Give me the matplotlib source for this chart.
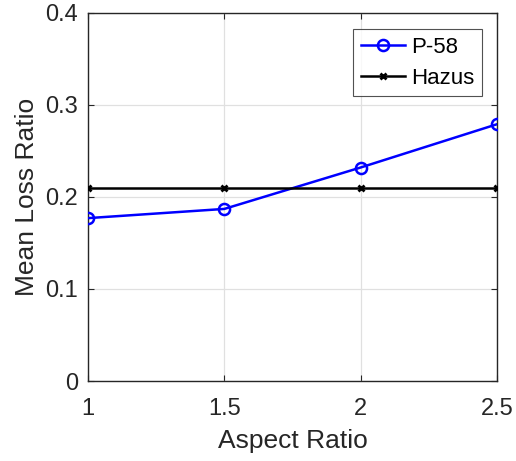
import matplotlib
matplotlib.use('Agg')
import matplotlib.pyplot as plt

# Data
aspect_ratio = [1, 1.5, 2, 2.5]
p58_loss = [0.177, 0.187, 0.232, 0.279]
hazus_loss = [0.21, 0.21, 0.21, 0.21]

xticks = [1, 1.5, 2, 2.5]
xtick_labels = ['1', '1.5', '2', '2.5']
yticks = [0, 0.1, 0.2, 0.3, 0.4]
ytick_labels = ['0', '0.1', '0.2', '0.3', '0.4']

plt.rcParams['font.family'] = ['Liberation Sans', 'DejaVu Sans']

fig = plt.figure(figsize=(5.16, 4.61), dpi=100)
ax = fig.add_axes([0.1705, 0.1735, 0.7925, 0.7985])

ax.plot(aspect_ratio, p58_loss, color='#0000ff', marker='o', markersize=8,
        markerfacecolor='none', markeredgewidth=1.8, linewidth=1.8, label='P-58', zorder=3)
ax.plot(aspect_ratio, hazus_loss, color='black', marker='x', markersize=5,
        markeredgewidth=2, linewidth=1.8, label='Hazus', zorder=3)

ax.set_xlim(1, 2.5)
ax.set_ylim(0, 0.4)
ax.set_xticks(xticks)
ax.set_xticklabels(xtick_labels)
ax.set_yticks(yticks)
ax.set_yticklabels(ytick_labels)

ax.grid(True, color='#e0e0e0', linewidth=0.9)
ax.set_axisbelow(True)
ax.tick_params(direction='in', top=True, right=True, labelsize=17, colors='#262626',
               length=4, width=0.8)
ax.tick_params(axis='x', pad=12)
ax.tick_params(axis='y', pad=7)
for s in ax.spines.values():
    s.set_color('#262626')
    s.set_linewidth(1.0)

ax.set_xlabel('Aspect Ratio', fontsize=19, color='#262626', labelpad=7)
ax.set_ylabel('Mean Loss Ratio', fontsize=19, color='#262626', labelpad=5)

leg = ax.legend(loc='upper right', fontsize=16, frameon=True, fancybox=False,
                edgecolor='#262626', handlelength=2.0, handletextpad=0.25,
                borderpad=0.35, labelspacing=0.45, borderaxespad=0,
                bbox_to_anchor=(0.963, 0.957))
leg.get_frame().set_linewidth(0.8)

fig.savefig('out.png', dpi=100)
